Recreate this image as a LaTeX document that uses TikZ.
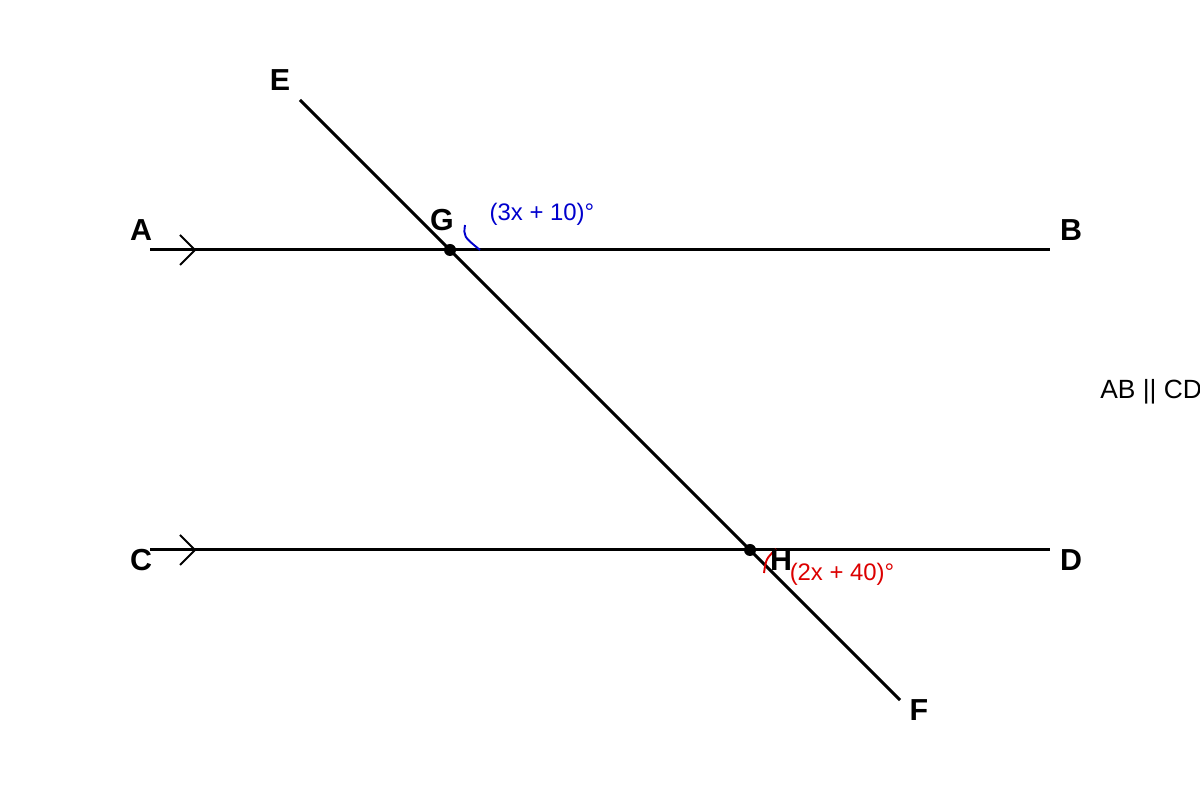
\documentclass[tikz,border=0pt]{standalone}
\usepackage{fontspec}
\setmainfont{Liberation Sans}
\usepackage{tikz}
\definecolor{angblue}{RGB}{0,0,205}
\definecolor{angred}{RGB}{220,0,0}
\begin{document}
\begin{tikzpicture}[x=0.02cm,y=0.02cm,
    ptlabel/.style={font=\fontsize{17.3}{20}\selectfont\bfseries},
    anglabel/.style={font=\fontsize{13.6}{16}\selectfont},
    mainline/.style={line width=1.7pt},
    tick/.style={line width=1.1pt}]
            \useasboundingbox (0,0) rectangle (1200,800);
            \coordinate (a) at (150,550);
            \coordinate (b) at (1050,550);
            \coordinate (c) at (150,250);
            \coordinate (d) at (1050,250);
            \coordinate (e) at (300,700);
            \coordinate (f) at (900,100);
            \coordinate (g) at (450,550);
            \coordinate (h) at (750,250);
            \draw[mainline] (a)--(b);
            \draw[mainline] (c)--(d);
            \draw[mainline] (e)--(f);
            \draw[tick] (180,565)--(195,550)--(180,535);
            \draw[tick] (180,265)--(195,250)--(180,235);
            \fill (g) circle (6);
            \fill (h) circle (6);
            \draw[angblue, line width=1.1pt] (465,575) .. controls (463.5,563.5) .. (480,550);
            \draw[angred, line width=1.1pt] (776,251) .. controls (766,241) .. (764,227);
            \node[ptlabel] (lE) at (280,720) {E};
            \node[ptlabel] (lA) at (141,570) {A};
            \node[ptlabel] (lG) at (442,580) {G};
            \node[ptlabel] (lB) at (1071,570) {B};
            \node[ptlabel] (lC) at (141,240) {C};
            \node[ptlabel] (lH) at (781,240) {H};
            \node[ptlabel] (lD) at (1071,240) {D};
            \node[ptlabel] (lF) at (919,90) {F};
            \node[anglabel, angblue] (ag) at (542,586) {(3x + 10)°};
            \node[anglabel, angred] (ah) at (842,226) {(2x + 40)°};
            \node[anglabel, font=\fontsize{15}{18}\selectfont, anchor=west, inner sep=0pt] (par) at (1100,408) {AB || CD};
        \end{tikzpicture}
\end{document}
